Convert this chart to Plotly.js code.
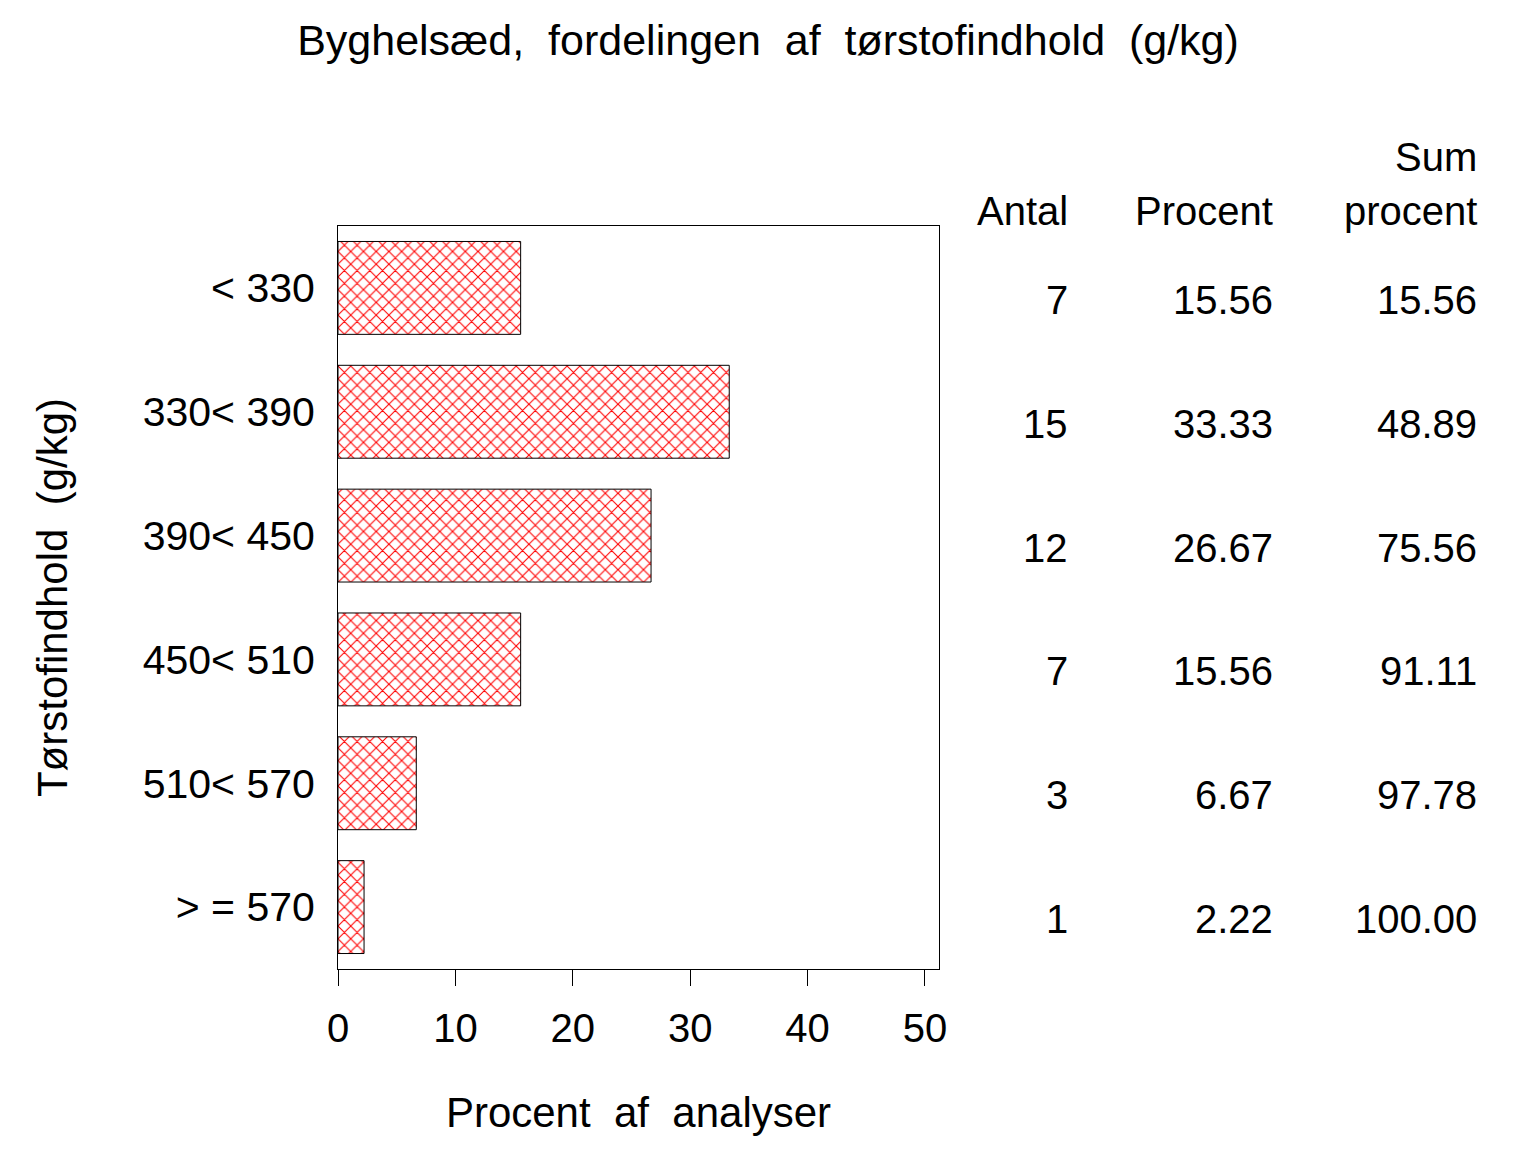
<!DOCTYPE html>
<html>
<head>
<meta charset="utf-8">
<script src="https://cdn.plot.ly/plotly-3.0.1.min.js"></script>
<style>html,body{margin:0;padding:0;background:#fff;}</style>
</head>
<body>
<div id="chart" style="width:1536px;height:1152px;"></div>
<script>
const categories = ["< 330", "330< 390", "390< 450", "450< 510", "510< 570", "> = 570"];
const antal = [7, 15, 12, 7, 3, 1];
const procent = [15.56, 33.33, 26.67, 15.56, 6.67, 2.22];
const sumProcent = [15.56, 48.89, 75.56, 91.11, 97.78, 100.00];
const xTicks = [0, 10, 20, 30, 40, 50];

const FONT = "Liberation Sans, Arial, sans-serif";
const FS = 40;

const trace = {
  type: "bar",
  orientation: "h",
  y: categories,
  x: procent,
  width: 0.75,
  marker: {
    color: "white",
    line: {color: "black", width: 1},
    pattern: {shape: "x", fgcolor: "#ff0000", bgcolor: "white", size: 9, solidity: 0.22}
  },
  hoverinfo: "none"
};

const annotations = [];
const colX = [1.218, 1.559, 1.899];
const cols = [antal.map(String), procent.map(v => v.toFixed(2)), sumProcent.map(v => v.toFixed(2))];
cols.forEach((vals, c) => {
  vals.forEach((t, i) => {
    annotations.push({
      xref: "paper", yref: "y", x: colX[c], y: categories[i], yshift: -12,
      text: t, showarrow: false, xanchor: "right", yanchor: "middle",
      font: {family: FONT, size: FS, color: "black"}
    });
  });
});
const headers = [["Antal", colX[0], 1.0202], ["Procent", colX[1], 1.0202], ["procent", colX[2], 1.0202], ["Sum", colX[2], 1.093]];
headers.forEach(h => annotations.push({
  xref: "paper", yref: "paper", x: h[1], y: h[2], text: h[0], showarrow: false,
  xanchor: "right", yanchor: "middle", font: {family: FONT, size: FS, color: "black"}
}));

const layout = {
  width: 1536, height: 1152,
  margin: {l: 338, r: 597, t: 226, b: 183, pad: 0},
  paper_bgcolor: "white", plot_bgcolor: "white",
  showlegend: false,
  font: {family: FONT, size: FS, color: "black"},
  title: {text: "Byghelsæd,\u00A0 fordelingen\u00A0 af\u00A0 tørstofindhold\u00A0 (g/kg)", x: 0.5, xref: "container", y: 0.965, yref: "container", yanchor: "middle", font: {family: FONT, size: 43, color: "black"}},
  xaxis: {
    range: [0, 51.2], tickvals: xTicks, ticktext: xTicks.map(String),
    ticks: "outside", ticklen: 16, tickwidth: 1, tickcolor: "black",
    showline: true, linecolor: "black", linewidth: 1, mirror: true,
    showgrid: false, zeroline: false, ticklabelstandoff: 8,
    tickfont: {family: FONT, size: FS, color: "black"},
    title: {text: "Procent\u00A0 af\u00A0 analyser", standoff: 48, font: {family: FONT, size: 42, color: "black"}}
  },
  yaxis: {
    type: "category", autorange: "reversed",
    ticks: "", showline: true, linecolor: "black", linewidth: 1, mirror: true,
    showgrid: false, zeroline: false, ticklabelstandoff: 14,
    tickfont: {family: FONT, size: 41, color: "black"},
    title: {text: "Tørstofindhold\u00A0 (g/kg)", standoff: 61, font: {family: FONT, size: 42, color: "black"}}
  },
  bargap: 0.25,
  annotations: annotations
};

Plotly.newPlot("chart", [trace], layout, {staticPlot: true, displayModeBar: false});
</script>
</body>
</html>
